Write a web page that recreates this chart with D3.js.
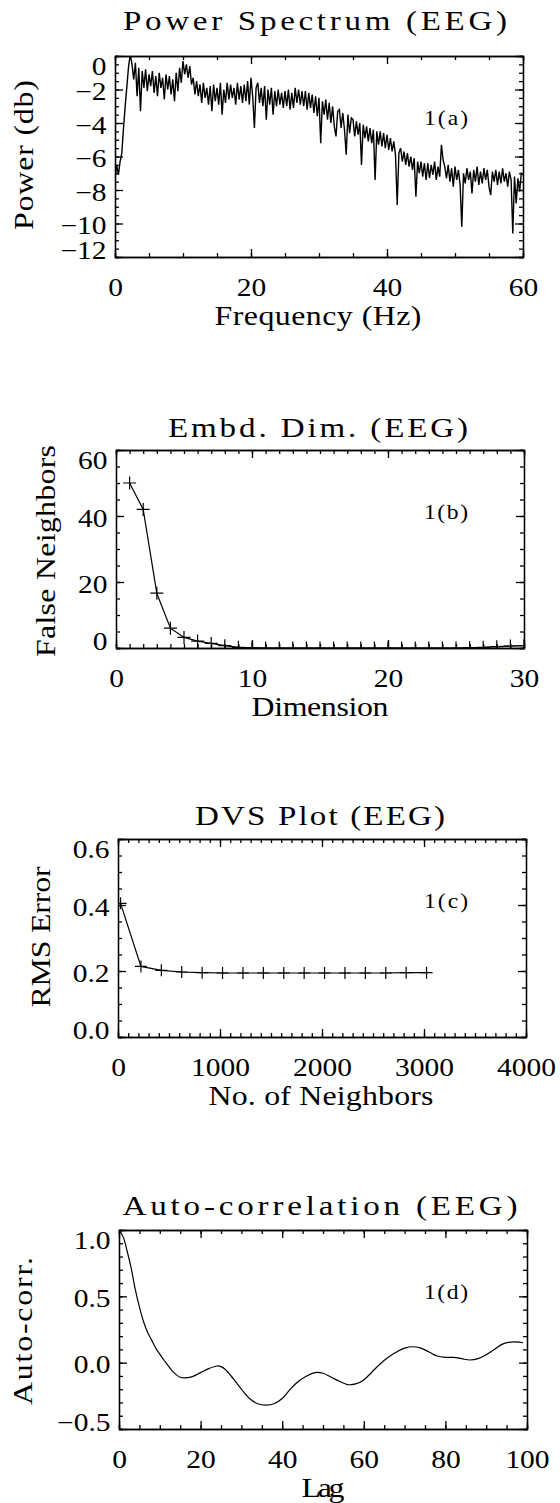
<!DOCTYPE html>
<meta charset="utf-8">
<script src="https://cdn.jsdelivr.net/npm/d3@7"></script>
<style>
body { margin: 0; background: #fff; }
text { font-family: "Liberation Serif", "Times New Roman", serif; fill: #000; }
.axis path, .axis line { stroke: #000; stroke-width: 1.3px; }
.tick text { font-size: 25px; }
.title { font-size: 28px; }
.xlabel, .ylabel { font-size: 27px; }
.note { font-size: 20px; }
.trace { fill: none; stroke: #000; }
</style>
<body>
<script>
// ---- 1(a) power spectrum, one value every 0.25 Hz from 0 to 60 Hz
var psdStep = 0.25;
var psdPower = [
  -7.4, -6.5, -7.1, -6.3,  -5.8, -4.3, -3.0, -1.8,  -0.6, 0.1, -0.5, -1.4,  -0.4, -2.4, -0.7, -3.3,
  -0.9, -1.9, -0.8, -2.1,  -1.1, -1.8, -0.9, -2.2,  -1.2, -2.4, -1.0, -1.9,  -1.3, -2.6, -1.1, -2.0,
  -1.2, -2.3, -1.4, -2.7,  -1.0, -2.1, -0.7, -1.6,  -0.3, -1.1, -0.5, -1.3,  -0.6, -1.7, -1.3, -2.3,
  -1.5, -2.4, -1.7, -2.8,  -1.6, -2.5, -1.9, -2.9,  -1.8, -3.3, -1.7, -2.7,  -1.9, -2.9, -1.6, -3.5,
  -2.0, -2.8, -1.6, -2.6,  -1.7, -2.5, -1.9, -2.9,  -1.6, -2.6, -1.8, -2.8,  -1.7, -2.7, -1.5, -2.9,
  -1.3, -2.4, -4.3, -1.9,  -1.6, -2.8, -1.9, -3.0,  -1.8, -3.8, -2.0, -2.9,  -1.9, -3.5, -2.1, -3.0,
  -2.0, -2.9, -2.2, -3.1,  -2.1, -3.0, -2.0, -3.2,  -2.2, -3.1, -1.9, -2.8,  -2.0, -2.9, -2.1, -3.0,
  -2.1, -3.2, -2.2, -3.1,  -2.3, -3.4, -2.4, -3.6,  -2.5, -5.2, -2.7, -3.5,  -2.6, -3.8, -2.8, -4.0,
  -3.0, -4.2, -4.8, -3.3,  -3.2, -4.3, -3.4, -4.4,  -5.9, -3.5, -4.6, -3.7,  -3.8, -4.8, -3.9, -4.7,
  -4.0, -6.5, -4.1, -4.9,  -4.2, -5.1, -4.3, -5.2,  -4.4, -7.4, -4.5, -5.3,  -4.5, -5.4, -4.6, -5.5,
  -4.7, -5.6, -4.9, -5.7,  -5.1, -5.9, -8.9, -5.8,  -5.5, -6.3, -5.7, -6.5,  -5.8, -6.6, -6.0, -6.8,
  -6.1, -8.4, -6.3, -7.0,  -6.3, -7.2, -6.4, -7.4,  -6.4, -7.3, -6.5, -7.1,  -6.3, -7.4, -6.6, -7.2,
  -5.3, -6.2, -6.6, -7.3,  -6.5, -7.5, -6.7, -7.8,  -6.6, -7.4, -6.8, -7.7,  -10.2, -7.0, -7.6, -6.7,
  -7.4, -6.9, -8.2, -6.8,  -7.5, -6.6, -7.7, -6.9,  -7.6, -6.7, -7.4, -6.8,  -7.8, -8.3, -6.9, -7.5,
  -6.8, -7.7, -6.9, -7.6,  -6.7, -7.5, -7.0, -7.8,  -6.9, -7.4, -10.6, -7.2,  -8.8, -7.3, -8.1, -7.0,
  -7.1
];

// ---- 1(b) false nearest neighbours vs embedding dimension
var fnnDim = [1, 2, 3, 4, 5, 6, 7, 8, 9, 10, 11, 12, 13, 14, 15, 16, 17, 18, 19, 20,
              21, 22, 23, 24, 25, 26, 27, 28, 29, 30];
var fnnPct = [50, 42, 16.6, 6.0, 3.2, 2.1, 1.4, 0.7, 0.2, 0.05, 0, 0, 0, 0, 0, 0, 0, 0, 0, 0,
              0, 0, 0, 0, 0, 0.1, 0.2, 0.4, 0.6, 0.7];

// ---- 1(c) DVS plot
var dvsNeighbors = [25, 225, 425, 625, 825, 1025, 1225, 1425, 1625, 1825, 2025, 2225, 2425, 2625, 2825, 3025];
var dvsRms = [0.405, 0.214, 0.202, 0.197, 0.195, 0.194, 0.194, 0.194, 0.194, 0.194, 0.194, 0.194, 0.194, 0.194, 0.195, 0.195];

// ---- 1(d) auto-correlation
var acfLag = [0, 1, 2, 3, 4, 5, 6, 7, 8, 9, 10, 11, 12, 13, 14, 15, 16, 18, 20, 22, 24, 25, 26, 28, 30,
              32, 34, 36, 38, 40, 42, 44, 46, 48, 50, 52, 54, 56, 58, 60, 62, 64, 66, 68, 70, 72, 74,
              76, 78, 80, 82, 84, 86, 88, 90, 92, 94, 96, 98, 99];
var acfValue = [1.0, 0.95, 0.84, 0.71, 0.55, 0.42, 0.31, 0.23, 0.17, 0.11, 0.065, 0.02, -0.02, -0.06, -0.09,
                -0.11, -0.115, -0.105, -0.075, -0.045, -0.025, -0.03, -0.05, -0.12, -0.20, -0.27, -0.31,
                -0.32, -0.31, -0.27, -0.20, -0.14, -0.10, -0.075, -0.08, -0.11, -0.14, -0.165, -0.16,
                -0.13, -0.07, -0.01, 0.04, 0.08, 0.11, 0.12, 0.11, 0.08, 0.05, 0.04, 0.04, 0.03, 0.02,
                0.03, 0.06, 0.10, 0.14, 0.155, 0.155, 0.15];

var width = 560, height = 1503;
var stretch = 1.18; // the plotter's letters are wider than Times

var svg = d3.select("body").append("svg")
    .attr("width", width)
    .attr("height", height);

var fmtInt = d3.format("d"),
    fmt1 = d3.format(".1f");

function stepTicks(domain, step) {
  return d3.range(domain[0], domain[1] + step / 2, step);
}

function plus(x, y, s) {
  return "M" + (x - s) + "," + y + "H" + (x + s) + "M" + x + "," + (y - s) + "V" + (y + s);
}

// wide lettering: stretched glyphs, then spread to the measured length
function label(parent, cls, str, x, y, len, rot, anchor) {
  return parent.append("text").attr("class", cls)
    .attr("transform", "translate(" + x + "," + y + ")" + (rot ? "rotate(" + rot + ")" : "") + "scale(" + stretch + ",1)")
    .attr("text-anchor", anchor || "middle")
    .attr("textLength", len / stretch).attr("lengthAdjust", "spacing")
    .text(str);
}

function panel(p) {
  var g = svg.append("g").attr("transform", "translate(" + p.left + "," + p.top + ")");
  var x = d3.scaleLinear().domain(p.xDomain).range([0, p.w]);
  var y = d3.scaleLinear().domain(p.yDomain).range([p.h, 0]);

  svg.append("clipPath").attr("id", "clip-" + p.id)
    .append("rect").attr("width", p.w).attr("height", p.h);

  var plot = g.append("g").attr("clip-path", "url(#clip-" + p.id + ")");
  p.draw(plot, x, y);

  // minor ticks, all four sides, pointing in
  var xm = stepTicks(p.xDomain, p.xMinor), ym = stepTicks(p.yDomain, p.yMinor);
  g.append("g").attr("class", "axis").attr("transform", "translate(0," + p.h + ")")
    .call(d3.axisBottom(x).tickValues(xm).tickSize(-4).tickFormat(""));
  g.append("g").attr("class", "axis")
    .call(d3.axisTop(x).tickValues(xm).tickSize(-4).tickFormat(""));
  g.append("g").attr("class", "axis")
    .call(d3.axisLeft(y).tickValues(ym).tickSize(-4).tickFormat(""));
  g.append("g").attr("class", "axis").attr("transform", "translate(" + p.w + ",0)")
    .call(d3.axisRight(y).tickValues(ym).tickSize(-4).tickFormat(""));

  // major ticks
  var bx = g.append("g").attr("class", "axis").attr("transform", "translate(0," + p.h + ")")
    .call(d3.axisBottom(x).tickValues(p.xTicks).tickSizeInner(-8).tickSizeOuter(0)
      .tickPadding(21).tickFormat(p.xFmt));
  g.append("g").attr("class", "axis")
    .call(d3.axisTop(x).tickValues(p.xTicks).tickSizeInner(-8).tickSizeOuter(0).tickFormat(""));
  var ly = g.append("g").attr("class", "axis")
    .call(d3.axisLeft(y).tickValues(p.yTicks).tickSizeInner(-8).tickSizeOuter(0)
      .tickPadding(8.5).tickFormat(p.yFmt));
  g.append("g").attr("class", "axis").attr("transform", "translate(" + p.w + ",0)")
    .call(d3.axisRight(y).tickValues(p.yTicks).tickSizeInner(-8).tickSizeOuter(0).tickFormat(""));

  // end labels sit inside the box
  var yMin = d3.min(p.yDomain), yMax = d3.max(p.yDomain);
  ly.selectAll(".tick text")
    .attr("x", -8.5 / stretch)
    .attr("y", function(d) { return d === yMax ? 10 : d === yMin ? -7 : 2; })
    .attr("transform", "scale(" + stretch + ",1)");
  bx.selectAll(".tick text").attr("transform", "scale(" + stretch + ",1)");

  svg.selectAll(".axis").attr("font-size", null).attr("font-family", null);

  label(svg, "title", p.title, p.titleX, p.titleY, p.titleLen);
  label(svg, "xlabel", p.xLabel, p.xLabelX, p.top + p.h + 68, p.xLabelLen);
  label(svg, "ylabel", p.yLabel, p.yLabelX, p.yLabelY, p.yLabelLen, -90);
  label(svg, "note", p.note, 424, p.top + 69, 44, 0, "start");
}

panel({
  id: "a", left: 115, top: 56, w: 408, h: 201,
  xDomain: [0, 60], yDomain: [-12, 0],
  xTicks: [0, 20, 40, 60], xMinor: 5, xFmt: fmtInt,
  yTicks: [0, -2, -4, -6, -8, -10, -12], yMinor: 0.5, yFmt: fmtInt,
  title: "Power Spectrum (EEG)", titleX: 315, titleY: 30, titleLen: 384,
  xLabel: "Frequency (Hz)", xLabelX: 318, xLabelLen: 207,
  yLabel: "Power (db)", yLabelX: 33, yLabelY: 155, yLabelLen: 150,
  note: "1(a)",
  draw: function(g, x, y) {
    g.append("path").attr("class", "trace")
      .attr("stroke-width", 1.4)
      .attr("d", d3.line()
        .x(function(d, i) { return x(i * psdStep); })
        .y(function(d) { return y(d); })(psdPower));
  }
});

panel({
  id: "b", left: 116, top: 450, w: 408, h: 198,
  xDomain: [0, 30], yDomain: [0, 60],
  xTicks: [0, 10, 20, 30], xMinor: 1, xFmt: fmtInt,
  yTicks: [0, 20, 40, 60], yMinor: 5, yFmt: fmtInt,
  title: "Embd. Dim. (EEG)", titleX: 318, titleY: 437, titleLen: 300,
  xLabel: "Dimension", xLabelX: 320, xLabelLen: 137,
  yLabel: "False Neighbors", yLabelX: 55, yLabelY: 551, yLabelLen: 212,
  note: "1(b)",
  draw: function(g, x, y) {
    g.append("path").attr("class", "trace")
      .attr("stroke-width", 1.2)
      .attr("d", d3.line()
        .x(function(d) { return x(d); })
        .y(function(d, i) { return y(fnnPct[i]); })(fnnDim));
    g.append("path").attr("class", "trace")
      .attr("stroke-width", 1.2)
      .attr("d", fnnDim.map(function(d, i) { return plus(x(d), y(fnnPct[i]), 6.5); }).join(""));
  }
});

panel({
  id: "c", left: 118, top: 839, w: 408, h: 198,
  xDomain: [0, 4000], yDomain: [0, 0.6],
  xTicks: [0, 1000, 2000, 3000, 4000], xMinor: 100, xFmt: fmtInt,
  yTicks: [0, 0.2, 0.4, 0.6], yMinor: 0.05, yFmt: fmt1,
  title: "DVS Plot (EEG)", titleX: 320, titleY: 825, titleLen: 250,
  xLabel: "No. of Neighbors", xLabelX: 321, xLabelLen: 225,
  yLabel: "RMS Error", yLabelX: 50, yLabelY: 937, yLabelLen: 141,
  note: "1(c)",
  draw: function(g, x, y) {
    g.append("path").attr("class", "trace")
      .attr("stroke-width", 1.2)
      .attr("d", d3.line()
        .x(function(d) { return x(d); })
        .y(function(d, i) { return y(dvsRms[i]); })(dvsNeighbors));
    g.append("path").attr("class", "trace")
      .attr("stroke-width", 1.2)
      .attr("d", dvsNeighbors.map(function(d, i) { return plus(x(d), y(dvsRms[i]), 6); }).join(""));
  }
});

panel({
  id: "d", left: 119, top: 1230, w: 408, h: 199,
  xDomain: [0, 100], yDomain: [-0.5, 1],
  xTicks: [0, 20, 40, 60, 80, 100], xMinor: 5, xFmt: fmtInt,
  yTicks: [-0.5, 0, 0.5, 1], yMinor: 0.1, yFmt: fmt1,
  title: "Auto-correlation (EEG)", titleX: 320, titleY: 1215, titleLen: 395,
  xLabel: "Lag", xLabelX: 323, xLabelLen: 43,
  yLabel: "Auto-corr.", yLabelX: 32, yLabelY: 1331, yLabelLen: 148,
  note: "1(d)",
  draw: function(g, x, y) {
    g.append("path").attr("class", "trace")
      .attr("stroke-width", 1.2)
      .attr("d", d3.line()
        .curve(d3.curveCatmullRom)
        .x(function(d) { return x(d); })
        .y(function(d, i) { return y(acfValue[i]); })(acfLag));
  }
});
</script>
</body>
</html>
